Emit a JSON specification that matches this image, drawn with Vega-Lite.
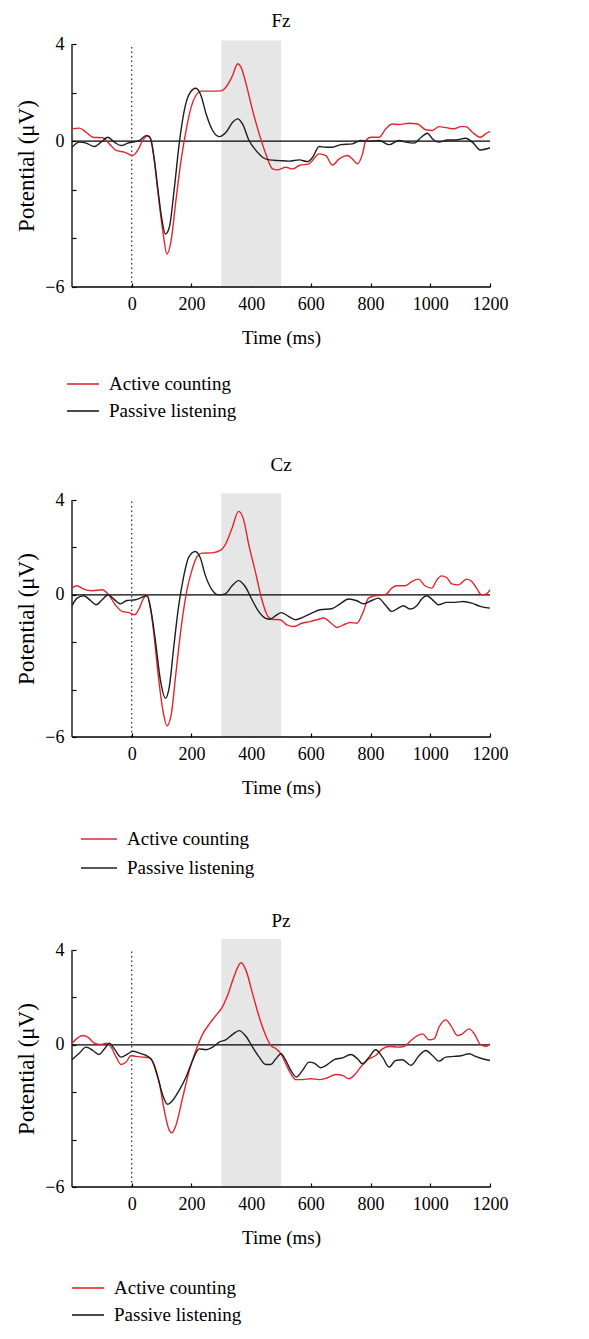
{
  "$schema": "https://vega.github.io/schema/vega-lite/v6.json",
  "background": "white",
  "padding": {"left": 15, "top": 12, "right": 5, "bottom": 5},
  "config": {
    "view": {"stroke": null},
    "font": "Liberation Serif",
    "title": {"font": "Liberation Serif", "fontSize": 19, "fontWeight": "normal", "color": "#000", "offset": 8},
    "axis": {"labelFont": "Liberation Serif", "titleFont": "Liberation Serif", "labelFontSize": 18, "titleFontSize": 19, "titleFontWeight": "normal", "labelColor": "#000", "titleColor": "#000", "domain": false, "tickColor": "#000", "grid": false, "tickWidth": 1.2, "tickSize": 4, "offset": -4, "labelPadding": 8, "zindex": 1},
    "legend": {"labelFont": "Liberation Serif", "labelFontSize": 19, "labelColor": "#000", "symbolType": "stroke", "symbolStrokeWidth": 1.6, "padding": 0, "rowPadding": 0, "labelOffset": 9}
  },
  "datasets": {
    "one": [{}],
    "erp": [
      {"site":"Fz","cond":"Active counting","t":-200,"v":0.51},{"site":"Fz","cond":"Active counting","t":-175,"v":0.54},{"site":"Fz","cond":"Active counting","t":-153,"v":0.37},{"site":"Fz","cond":"Active counting","t":-130,"v":0.16},{"site":"Fz","cond":"Active counting","t":-97,"v":0.14},{"site":"Fz","cond":"Active counting","t":-75,"v":-0.11},{"site":"Fz","cond":"Active counting","t":-52,"v":-0.38},{"site":"Fz","cond":"Active counting","t":-25,"v":-0.45},{"site":"Fz","cond":"Active counting","t":3,"v":-0.59},{"site":"Fz","cond":"Active counting","t":20,"v":-0.38},{"site":"Fz","cond":"Active counting","t":37,"v":0.03},{"site":"Fz","cond":"Active counting","t":54,"v":0.23},{"site":"Fz","cond":"Active counting","t":65,"v":0.03},{"site":"Fz","cond":"Active counting","t":76,"v":-0.8},{"site":"Fz","cond":"Active counting","t":87,"v":-2.03},{"site":"Fz","cond":"Active counting","t":104,"v":-3.68},{"site":"Fz","cond":"Active counting","t":118,"v":-4.64},{"site":"Fz","cond":"Active counting","t":132,"v":-4.09},{"site":"Fz","cond":"Active counting","t":148,"v":-2.45},{"site":"Fz","cond":"Active counting","t":165,"v":-0.8},{"site":"Fz","cond":"Active counting","t":182,"v":0.44},{"site":"Fz","cond":"Active counting","t":199,"v":1.4},{"site":"Fz","cond":"Active counting","t":215,"v":1.88},{"site":"Fz","cond":"Active counting","t":232,"v":2.06},{"site":"Fz","cond":"Active counting","t":260,"v":2.06},{"site":"Fz","cond":"Active counting","t":299,"v":2.07},{"site":"Fz","cond":"Active counting","t":316,"v":2.23},{"site":"Fz","cond":"Active counting","t":338,"v":2.71},{"site":"Fz","cond":"Active counting","t":355,"v":3.19},{"site":"Fz","cond":"Active counting","t":366,"v":3.05},{"site":"Fz","cond":"Active counting","t":383,"v":2.36},{"site":"Fz","cond":"Active counting","t":405,"v":1.26},{"site":"Fz","cond":"Active counting","t":427,"v":0.3},{"site":"Fz","cond":"Active counting","t":449,"v":-0.52},{"site":"Fz","cond":"Active counting","t":472,"v":-1.14},{"site":"Fz","cond":"Active counting","t":488,"v":-1.18},{"site":"Fz","cond":"Active counting","t":516,"v":-1.07},{"site":"Fz","cond":"Active counting","t":539,"v":-1.14},{"site":"Fz","cond":"Active counting","t":561,"v":-1.0},{"site":"Fz","cond":"Active counting","t":594,"v":-0.93},{"site":"Fz","cond":"Active counting","t":628,"v":-0.52},{"site":"Fz","cond":"Active counting","t":650,"v":-0.59},{"site":"Fz","cond":"Active counting","t":672,"v":-0.98},{"site":"Fz","cond":"Active counting","t":695,"v":-0.73},{"site":"Fz","cond":"Active counting","t":723,"v":-0.59},{"site":"Fz","cond":"Active counting","t":739,"v":-0.73},{"site":"Fz","cond":"Active counting","t":756,"v":-0.93},{"site":"Fz","cond":"Active counting","t":773,"v":-0.52},{"site":"Fz","cond":"Active counting","t":784,"v":0.03},{"site":"Fz","cond":"Active counting","t":801,"v":0.16},{"site":"Fz","cond":"Active counting","t":829,"v":0.16},{"site":"Fz","cond":"Active counting","t":851,"v":0.51},{"site":"Fz","cond":"Active counting","t":873,"v":0.71},{"site":"Fz","cond":"Active counting","t":895,"v":0.69},{"site":"Fz","cond":"Active counting","t":929,"v":0.74},{"site":"Fz","cond":"Active counting","t":957,"v":0.71},{"site":"Fz","cond":"Active counting","t":985,"v":0.47},{"site":"Fz","cond":"Active counting","t":1007,"v":0.44},{"site":"Fz","cond":"Active counting","t":1029,"v":0.6},{"site":"Fz","cond":"Active counting","t":1057,"v":0.55},{"site":"Fz","cond":"Active counting","t":1080,"v":0.51},{"site":"Fz","cond":"Active counting","t":1102,"v":0.6},{"site":"Fz","cond":"Active counting","t":1119,"v":0.6},{"site":"Fz","cond":"Active counting","t":1141,"v":0.37},{"site":"Fz","cond":"Active counting","t":1168,"v":0.16},{"site":"Fz","cond":"Active counting","t":1185,"v":0.3},{"site":"Fz","cond":"Active counting","t":1200,"v":0.4},
      {"site":"Fz","cond":"Passive listening","t":-200,"v":-0.25},{"site":"Fz","cond":"Passive listening","t":-175,"v":-0.04},{"site":"Fz","cond":"Passive listening","t":-153,"v":-0.08},{"site":"Fz","cond":"Passive listening","t":-125,"v":-0.22},{"site":"Fz","cond":"Passive listening","t":-103,"v":-0.04},{"site":"Fz","cond":"Passive listening","t":-80,"v":0.16},{"site":"Fz","cond":"Passive listening","t":-58,"v":-0.04},{"site":"Fz","cond":"Passive listening","t":-36,"v":-0.18},{"site":"Fz","cond":"Passive listening","t":-13,"v":-0.08},{"site":"Fz","cond":"Passive listening","t":3,"v":-0.04},{"site":"Fz","cond":"Passive listening","t":26,"v":0.03},{"site":"Fz","cond":"Passive listening","t":48,"v":0.23},{"site":"Fz","cond":"Passive listening","t":61,"v":0.16},{"site":"Fz","cond":"Passive listening","t":76,"v":-0.8},{"site":"Fz","cond":"Passive listening","t":87,"v":-1.9},{"site":"Fz","cond":"Passive listening","t":100,"v":-3.13},{"site":"Fz","cond":"Passive listening","t":113,"v":-3.82},{"site":"Fz","cond":"Passive listening","t":126,"v":-3.54},{"site":"Fz","cond":"Passive listening","t":143,"v":-1.9},{"site":"Fz","cond":"Passive listening","t":159,"v":-0.11},{"site":"Fz","cond":"Passive listening","t":176,"v":1.26},{"site":"Fz","cond":"Passive listening","t":193,"v":1.95},{"site":"Fz","cond":"Passive listening","t":215,"v":2.18},{"site":"Fz","cond":"Passive listening","t":232,"v":1.88},{"site":"Fz","cond":"Passive listening","t":249,"v":1.13},{"site":"Fz","cond":"Passive listening","t":271,"v":0.44},{"site":"Fz","cond":"Passive listening","t":293,"v":0.19},{"site":"Fz","cond":"Passive listening","t":316,"v":0.37},{"site":"Fz","cond":"Passive listening","t":338,"v":0.78},{"site":"Fz","cond":"Passive listening","t":355,"v":0.92},{"site":"Fz","cond":"Passive listening","t":371,"v":0.71},{"site":"Fz","cond":"Passive listening","t":393,"v":0.03},{"site":"Fz","cond":"Passive listening","t":416,"v":-0.38},{"site":"Fz","cond":"Passive listening","t":438,"v":-0.66},{"site":"Fz","cond":"Passive listening","t":461,"v":-0.77},{"site":"Fz","cond":"Passive listening","t":494,"v":-0.8},{"site":"Fz","cond":"Passive listening","t":527,"v":-0.82},{"site":"Fz","cond":"Passive listening","t":561,"v":-0.77},{"site":"Fz","cond":"Passive listening","t":589,"v":-0.84},{"site":"Fz","cond":"Passive listening","t":606,"v":-0.66},{"site":"Fz","cond":"Passive listening","t":628,"v":-0.22},{"site":"Fz","cond":"Passive listening","t":650,"v":-0.25},{"site":"Fz","cond":"Passive listening","t":672,"v":-0.25},{"site":"Fz","cond":"Passive listening","t":700,"v":-0.14},{"site":"Fz","cond":"Passive listening","t":739,"v":-0.11},{"site":"Fz","cond":"Passive listening","t":767,"v":0.03},{"site":"Fz","cond":"Passive listening","t":795,"v":0.0},{"site":"Fz","cond":"Passive listening","t":829,"v":0.03},{"site":"Fz","cond":"Passive listening","t":862,"v":-0.14},{"site":"Fz","cond":"Passive listening","t":895,"v":0.03},{"site":"Fz","cond":"Passive listening","t":918,"v":-0.04},{"site":"Fz","cond":"Passive listening","t":946,"v":-0.08},{"site":"Fz","cond":"Passive listening","t":968,"v":0.14},{"site":"Fz","cond":"Passive listening","t":990,"v":0.33},{"site":"Fz","cond":"Passive listening","t":1007,"v":0.1},{"site":"Fz","cond":"Passive listening","t":1029,"v":-0.04},{"site":"Fz","cond":"Passive listening","t":1057,"v":0.05},{"site":"Fz","cond":"Passive listening","t":1085,"v":0.05},{"site":"Fz","cond":"Passive listening","t":1119,"v":0.12},{"site":"Fz","cond":"Passive listening","t":1141,"v":-0.04},{"site":"Fz","cond":"Passive listening","t":1168,"v":-0.36},{"site":"Fz","cond":"Passive listening","t":1200,"v":-0.27},
      {"site":"Cz","cond":"Active counting","t":-200,"v":0.28},{"site":"Cz","cond":"Active counting","t":-183,"v":0.38},{"site":"Cz","cond":"Active counting","t":-161,"v":0.24},{"site":"Cz","cond":"Active counting","t":-133,"v":0.17},{"site":"Cz","cond":"Active counting","t":-99,"v":0.21},{"site":"Cz","cond":"Active counting","t":-77,"v":0.0},{"site":"Cz","cond":"Active counting","t":-55,"v":-0.42},{"site":"Cz","cond":"Active counting","t":-32,"v":-0.7},{"site":"Cz","cond":"Active counting","t":-10,"v":-0.75},{"site":"Cz","cond":"Active counting","t":10,"v":-0.84},{"site":"Cz","cond":"Active counting","t":23,"v":-0.63},{"site":"Cz","cond":"Active counting","t":40,"v":-0.14},{"site":"Cz","cond":"Active counting","t":51,"v":0.0},{"site":"Cz","cond":"Active counting","t":62,"v":-0.49},{"site":"Cz","cond":"Active counting","t":74,"v":-1.62},{"site":"Cz","cond":"Active counting","t":88,"v":-3.31},{"site":"Cz","cond":"Active counting","t":104,"v":-4.85},{"site":"Cz","cond":"Active counting","t":118,"v":-5.53},{"site":"Cz","cond":"Active counting","t":133,"v":-5.0},{"site":"Cz","cond":"Active counting","t":148,"v":-3.31},{"site":"Cz","cond":"Active counting","t":166,"v":-1.34},{"site":"Cz","cond":"Active counting","t":185,"v":0.21},{"site":"Cz","cond":"Active counting","t":202,"v":1.05},{"site":"Cz","cond":"Active counting","t":219,"v":1.62},{"site":"Cz","cond":"Active counting","t":235,"v":1.76},{"site":"Cz","cond":"Active counting","t":269,"v":1.77},{"site":"Cz","cond":"Active counting","t":297,"v":1.87},{"site":"Cz","cond":"Active counting","t":313,"v":2.11},{"site":"Cz","cond":"Active counting","t":336,"v":2.81},{"site":"Cz","cond":"Active counting","t":358,"v":3.52},{"site":"Cz","cond":"Active counting","t":375,"v":3.16},{"site":"Cz","cond":"Active counting","t":391,"v":2.18},{"site":"Cz","cond":"Active counting","t":414,"v":0.98},{"site":"Cz","cond":"Active counting","t":436,"v":-0.21},{"site":"Cz","cond":"Active counting","t":453,"v":-0.84},{"site":"Cz","cond":"Active counting","t":469,"v":-1.03},{"site":"Cz","cond":"Active counting","t":497,"v":-1.05},{"site":"Cz","cond":"Active counting","t":520,"v":-1.27},{"site":"Cz","cond":"Active counting","t":542,"v":-1.34},{"site":"Cz","cond":"Active counting","t":570,"v":-1.2},{"site":"Cz","cond":"Active counting","t":598,"v":-1.13},{"site":"Cz","cond":"Active counting","t":626,"v":-1.03},{"site":"Cz","cond":"Active counting","t":642,"v":-0.98},{"site":"Cz","cond":"Active counting","t":670,"v":-1.22},{"site":"Cz","cond":"Active counting","t":687,"v":-1.38},{"site":"Cz","cond":"Active counting","t":709,"v":-1.27},{"site":"Cz","cond":"Active counting","t":732,"v":-1.17},{"site":"Cz","cond":"Active counting","t":754,"v":-1.2},{"site":"Cz","cond":"Active counting","t":776,"v":-0.7},{"site":"Cz","cond":"Active counting","t":793,"v":-0.14},{"site":"Cz","cond":"Active counting","t":815,"v":-0.04},{"site":"Cz","cond":"Active counting","t":849,"v":0.0},{"site":"Cz","cond":"Active counting","t":871,"v":0.28},{"site":"Cz","cond":"Active counting","t":888,"v":0.38},{"site":"Cz","cond":"Active counting","t":916,"v":0.38},{"site":"Cz","cond":"Active counting","t":938,"v":0.56},{"site":"Cz","cond":"Active counting","t":960,"v":0.66},{"site":"Cz","cond":"Active counting","t":982,"v":0.38},{"site":"Cz","cond":"Active counting","t":1005,"v":0.28},{"site":"Cz","cond":"Active counting","t":1022,"v":0.63},{"site":"Cz","cond":"Active counting","t":1038,"v":0.8},{"site":"Cz","cond":"Active counting","t":1055,"v":0.73},{"site":"Cz","cond":"Active counting","t":1072,"v":0.46},{"site":"Cz","cond":"Active counting","t":1094,"v":0.42},{"site":"Cz","cond":"Active counting","t":1122,"v":0.66},{"site":"Cz","cond":"Active counting","t":1139,"v":0.56},{"site":"Cz","cond":"Active counting","t":1155,"v":0.28},{"site":"Cz","cond":"Active counting","t":1172,"v":0.0},{"site":"Cz","cond":"Active counting","t":1188,"v":0.04},{"site":"Cz","cond":"Active counting","t":1200,"v":0.21},
      {"site":"Cz","cond":"Passive listening","t":-200,"v":-0.46},{"site":"Cz","cond":"Passive listening","t":-183,"v":-0.14},{"site":"Cz","cond":"Passive listening","t":-161,"v":-0.04},{"site":"Cz","cond":"Passive listening","t":-138,"v":-0.24},{"site":"Cz","cond":"Passive listening","t":-119,"v":-0.42},{"site":"Cz","cond":"Passive listening","t":-99,"v":-0.21},{"site":"Cz","cond":"Passive listening","t":-79,"v":0.0},{"site":"Cz","cond":"Passive listening","t":-60,"v":-0.18},{"site":"Cz","cond":"Passive listening","t":-38,"v":-0.38},{"site":"Cz","cond":"Passive listening","t":-16,"v":-0.24},{"site":"Cz","cond":"Passive listening","t":12,"v":-0.21},{"site":"Cz","cond":"Passive listening","t":35,"v":-0.1},{"site":"Cz","cond":"Passive listening","t":51,"v":-0.04},{"site":"Cz","cond":"Passive listening","t":66,"v":-0.77},{"site":"Cz","cond":"Passive listening","t":79,"v":-1.9},{"site":"Cz","cond":"Passive listening","t":96,"v":-3.59},{"site":"Cz","cond":"Passive listening","t":113,"v":-4.36},{"site":"Cz","cond":"Passive listening","t":126,"v":-3.87},{"site":"Cz","cond":"Passive listening","t":141,"v":-2.18},{"site":"Cz","cond":"Passive listening","t":157,"v":-0.49},{"site":"Cz","cond":"Passive listening","t":174,"v":0.77},{"site":"Cz","cond":"Passive listening","t":191,"v":1.59},{"site":"Cz","cond":"Passive listening","t":213,"v":1.83},{"site":"Cz","cond":"Passive listening","t":230,"v":1.55},{"site":"Cz","cond":"Passive listening","t":246,"v":0.84},{"site":"Cz","cond":"Passive listening","t":269,"v":0.21},{"site":"Cz","cond":"Passive listening","t":291,"v":0.0},{"site":"Cz","cond":"Passive listening","t":313,"v":0.04},{"site":"Cz","cond":"Passive listening","t":336,"v":0.38},{"site":"Cz","cond":"Passive listening","t":358,"v":0.6},{"site":"Cz","cond":"Passive listening","t":380,"v":0.35},{"site":"Cz","cond":"Passive listening","t":403,"v":-0.21},{"site":"Cz","cond":"Passive listening","t":425,"v":-0.7},{"site":"Cz","cond":"Passive listening","t":447,"v":-0.98},{"site":"Cz","cond":"Passive listening","t":464,"v":-1.03},{"site":"Cz","cond":"Passive listening","t":481,"v":-0.89},{"site":"Cz","cond":"Passive listening","t":501,"v":-0.75},{"site":"Cz","cond":"Passive listening","t":525,"v":-0.91},{"site":"Cz","cond":"Passive listening","t":548,"v":-1.05},{"site":"Cz","cond":"Passive listening","t":575,"v":-0.94},{"site":"Cz","cond":"Passive listening","t":603,"v":-0.77},{"site":"Cz","cond":"Passive listening","t":631,"v":-0.63},{"site":"Cz","cond":"Passive listening","t":670,"v":-0.59},{"site":"Cz","cond":"Passive listening","t":698,"v":-0.38},{"site":"Cz","cond":"Passive listening","t":726,"v":-0.18},{"site":"Cz","cond":"Passive listening","t":754,"v":-0.25},{"site":"Cz","cond":"Passive listening","t":776,"v":-0.38},{"site":"Cz","cond":"Passive listening","t":804,"v":-0.24},{"site":"Cz","cond":"Passive listening","t":826,"v":-0.14},{"site":"Cz","cond":"Passive listening","t":849,"v":-0.42},{"site":"Cz","cond":"Passive listening","t":871,"v":-0.7},{"site":"Cz","cond":"Passive listening","t":893,"v":-0.56},{"site":"Cz","cond":"Passive listening","t":910,"v":-0.46},{"site":"Cz","cond":"Passive listening","t":932,"v":-0.6},{"site":"Cz","cond":"Passive listening","t":955,"v":-0.46},{"site":"Cz","cond":"Passive listening","t":971,"v":-0.18},{"site":"Cz","cond":"Passive listening","t":988,"v":-0.04},{"site":"Cz","cond":"Passive listening","t":1005,"v":-0.18},{"site":"Cz","cond":"Passive listening","t":1027,"v":-0.42},{"site":"Cz","cond":"Passive listening","t":1055,"v":-0.32},{"site":"Cz","cond":"Passive listening","t":1083,"v":-0.32},{"site":"Cz","cond":"Passive listening","t":1111,"v":-0.28},{"site":"Cz","cond":"Passive listening","t":1139,"v":-0.35},{"site":"Cz","cond":"Passive listening","t":1167,"v":-0.49},{"site":"Cz","cond":"Passive listening","t":1200,"v":-0.56},
      {"site":"Pz","cond":"Active counting","t":-200,"v":0.07},{"site":"Pz","cond":"Active counting","t":-181,"v":0.29},{"site":"Pz","cond":"Active counting","t":-164,"v":0.39},{"site":"Pz","cond":"Active counting","t":-147,"v":0.32},{"site":"Pz","cond":"Active counting","t":-125,"v":0.07},{"site":"Pz","cond":"Active counting","t":-103,"v":0.01},{"site":"Pz","cond":"Active counting","t":-86,"v":0.07},{"site":"Pz","cond":"Active counting","t":-69,"v":-0.1},{"site":"Pz","cond":"Active counting","t":-52,"v":-0.52},{"site":"Pz","cond":"Active counting","t":-36,"v":-0.83},{"site":"Pz","cond":"Active counting","t":-19,"v":-0.73},{"site":"Pz","cond":"Active counting","t":-2,"v":-0.45},{"site":"Pz","cond":"Active counting","t":14,"v":-0.49},{"site":"Pz","cond":"Active counting","t":37,"v":-0.52},{"site":"Pz","cond":"Active counting","t":59,"v":-0.55},{"site":"Pz","cond":"Active counting","t":76,"v":-0.87},{"site":"Pz","cond":"Active counting","t":93,"v":-1.64},{"site":"Pz","cond":"Active counting","t":109,"v":-2.77},{"site":"Pz","cond":"Active counting","t":126,"v":-3.61},{"site":"Pz","cond":"Active counting","t":135,"v":-3.71},{"site":"Pz","cond":"Active counting","t":148,"v":-3.4},{"site":"Pz","cond":"Active counting","t":171,"v":-2.21},{"site":"Pz","cond":"Active counting","t":193,"v":-1.08},{"site":"Pz","cond":"Active counting","t":215,"v":-0.24},{"site":"Pz","cond":"Active counting","t":238,"v":0.46},{"site":"Pz","cond":"Active counting","t":260,"v":0.88},{"site":"Pz","cond":"Active counting","t":282,"v":1.24},{"site":"Pz","cond":"Active counting","t":302,"v":1.56},{"site":"Pz","cond":"Active counting","t":321,"v":2.08},{"site":"Pz","cond":"Active counting","t":338,"v":2.71},{"site":"Pz","cond":"Active counting","t":355,"v":3.27},{"site":"Pz","cond":"Active counting","t":366,"v":3.46},{"site":"Pz","cond":"Active counting","t":383,"v":3.13},{"site":"Pz","cond":"Active counting","t":405,"v":2.15},{"site":"Pz","cond":"Active counting","t":427,"v":1.17},{"site":"Pz","cond":"Active counting","t":449,"v":0.39},{"site":"Pz","cond":"Active counting","t":466,"v":-0.03},{"site":"Pz","cond":"Active counting","t":483,"v":-0.17},{"site":"Pz","cond":"Active counting","t":500,"v":-0.38},{"site":"Pz","cond":"Active counting","t":516,"v":-0.8},{"site":"Pz","cond":"Active counting","t":533,"v":-1.22},{"site":"Pz","cond":"Active counting","t":550,"v":-1.47},{"site":"Pz","cond":"Active counting","t":572,"v":-1.47},{"site":"Pz","cond":"Active counting","t":600,"v":-1.43},{"site":"Pz","cond":"Active counting","t":628,"v":-1.47},{"site":"Pz","cond":"Active counting","t":656,"v":-1.39},{"site":"Pz","cond":"Active counting","t":684,"v":-1.25},{"site":"Pz","cond":"Active counting","t":706,"v":-1.29},{"site":"Pz","cond":"Active counting","t":728,"v":-1.43},{"site":"Pz","cond":"Active counting","t":745,"v":-1.29},{"site":"Pz","cond":"Active counting","t":767,"v":-0.94},{"site":"Pz","cond":"Active counting","t":790,"v":-0.63},{"site":"Pz","cond":"Active counting","t":817,"v":-0.45},{"site":"Pz","cond":"Active counting","t":840,"v":-0.17},{"site":"Pz","cond":"Active counting","t":862,"v":-0.07},{"site":"Pz","cond":"Active counting","t":890,"v":-0.1},{"site":"Pz","cond":"Active counting","t":912,"v":-0.07},{"site":"Pz","cond":"Active counting","t":935,"v":0.18},{"site":"Pz","cond":"Active counting","t":957,"v":0.39},{"site":"Pz","cond":"Active counting","t":974,"v":0.46},{"site":"Pz","cond":"Active counting","t":996,"v":0.21},{"site":"Pz","cond":"Active counting","t":1013,"v":0.25},{"site":"Pz","cond":"Active counting","t":1029,"v":0.74},{"site":"Pz","cond":"Active counting","t":1052,"v":1.05},{"site":"Pz","cond":"Active counting","t":1069,"v":0.81},{"site":"Pz","cond":"Active counting","t":1091,"v":0.39},{"site":"Pz","cond":"Active counting","t":1107,"v":0.46},{"site":"Pz","cond":"Active counting","t":1130,"v":0.67},{"site":"Pz","cond":"Active counting","t":1146,"v":0.49},{"site":"Pz","cond":"Active counting","t":1168,"v":0.01},{"site":"Pz","cond":"Active counting","t":1185,"v":-0.07},{"site":"Pz","cond":"Active counting","t":1200,"v":0.04},
      {"site":"Pz","cond":"Passive listening","t":-200,"v":-0.63},{"site":"Pz","cond":"Passive listening","t":-175,"v":-0.35},{"site":"Pz","cond":"Passive listening","t":-153,"v":-0.1},{"site":"Pz","cond":"Passive listening","t":-130,"v":-0.24},{"site":"Pz","cond":"Passive listening","t":-110,"v":-0.41},{"site":"Pz","cond":"Passive listening","t":-91,"v":-0.17},{"site":"Pz","cond":"Passive listening","t":-75,"v":0.07},{"site":"Pz","cond":"Passive listening","t":-58,"v":-0.17},{"site":"Pz","cond":"Passive listening","t":-36,"v":-0.52},{"site":"Pz","cond":"Passive listening","t":-13,"v":-0.38},{"site":"Pz","cond":"Passive listening","t":3,"v":-0.27},{"site":"Pz","cond":"Passive listening","t":26,"v":-0.35},{"site":"Pz","cond":"Passive listening","t":48,"v":-0.45},{"site":"Pz","cond":"Passive listening","t":68,"v":-0.66},{"site":"Pz","cond":"Passive listening","t":87,"v":-1.36},{"site":"Pz","cond":"Passive listening","t":104,"v":-2.13},{"site":"Pz","cond":"Passive listening","t":120,"v":-2.51},{"site":"Pz","cond":"Passive listening","t":137,"v":-2.35},{"site":"Pz","cond":"Passive listening","t":159,"v":-1.92},{"site":"Pz","cond":"Passive listening","t":182,"v":-1.36},{"site":"Pz","cond":"Passive listening","t":204,"v":-0.66},{"site":"Pz","cond":"Passive listening","t":226,"v":-0.17},{"site":"Pz","cond":"Passive listening","t":249,"v":-0.21},{"site":"Pz","cond":"Passive listening","t":271,"v":-0.1},{"site":"Pz","cond":"Passive listening","t":293,"v":0.11},{"site":"Pz","cond":"Passive listening","t":316,"v":0.22},{"site":"Pz","cond":"Passive listening","t":338,"v":0.44},{"site":"Pz","cond":"Passive listening","t":360,"v":0.6},{"site":"Pz","cond":"Passive listening","t":383,"v":0.35},{"site":"Pz","cond":"Passive listening","t":405,"v":-0.1},{"site":"Pz","cond":"Passive listening","t":427,"v":-0.52},{"site":"Pz","cond":"Passive listening","t":449,"v":-0.83},{"site":"Pz","cond":"Passive listening","t":466,"v":-0.83},{"site":"Pz","cond":"Passive listening","t":483,"v":-0.59},{"site":"Pz","cond":"Passive listening","t":500,"v":-0.38},{"site":"Pz","cond":"Passive listening","t":516,"v":-0.66},{"site":"Pz","cond":"Passive listening","t":533,"v":-1.08},{"site":"Pz","cond":"Passive listening","t":552,"v":-1.36},{"site":"Pz","cond":"Passive listening","t":572,"v":-1.08},{"site":"Pz","cond":"Passive listening","t":594,"v":-0.73},{"site":"Pz","cond":"Passive listening","t":611,"v":-0.77},{"site":"Pz","cond":"Passive listening","t":633,"v":-0.97},{"site":"Pz","cond":"Passive listening","t":656,"v":-0.83},{"site":"Pz","cond":"Passive listening","t":678,"v":-0.63},{"site":"Pz","cond":"Passive listening","t":706,"v":-0.55},{"site":"Pz","cond":"Passive listening","t":734,"v":-0.41},{"site":"Pz","cond":"Passive listening","t":756,"v":-0.59},{"site":"Pz","cond":"Passive listening","t":773,"v":-0.8},{"site":"Pz","cond":"Passive listening","t":795,"v":-0.52},{"site":"Pz","cond":"Passive listening","t":817,"v":-0.21},{"site":"Pz","cond":"Passive listening","t":840,"v":-0.52},{"site":"Pz","cond":"Passive listening","t":862,"v":-0.94},{"site":"Pz","cond":"Passive listening","t":884,"v":-0.66},{"site":"Pz","cond":"Passive listening","t":907,"v":-0.63},{"site":"Pz","cond":"Passive listening","t":935,"v":-0.87},{"site":"Pz","cond":"Passive listening","t":963,"v":-0.45},{"site":"Pz","cond":"Passive listening","t":985,"v":-0.24},{"site":"Pz","cond":"Passive listening","t":1007,"v":-0.45},{"site":"Pz","cond":"Passive listening","t":1029,"v":-0.69},{"site":"Pz","cond":"Passive listening","t":1052,"v":-0.52},{"site":"Pz","cond":"Passive listening","t":1080,"v":-0.49},{"site":"Pz","cond":"Passive listening","t":1107,"v":-0.45},{"site":"Pz","cond":"Passive listening","t":1130,"v":-0.38},{"site":"Pz","cond":"Passive listening","t":1152,"v":-0.49},{"site":"Pz","cond":"Passive listening","t":1174,"v":-0.59},{"site":"Pz","cond":"Passive listening","t":1200,"v":-0.66}
    ]
  },
  "vconcat": [
    {
      "width": 418, "height": 243,
      "title": {"text": "Fz", "offset": 4},
      "layer": [
        {"data": {"name": "one"},
         "mark": {"type": "rect", "color": "#e6e6e6", "clip": false},
         "encoding": {
           "x": {"datum": 300, "type": "quantitative", "scale": {"domain": [-200, 1200], "nice": false, "zero": false},
                 "axis": {"values": [0,200,400,600,800,1000,1200], "format": "d", "labelFlush": false, "labelOverlap": false, "title": "Time (ms)", "titlePadding": 15}},
           "x2": {"datum": 500},
           "y": {"datum": -6, "type": "quantitative", "scale": {"domain": [-6, 4], "nice": false, "zero": false},
                 "axis": {"values": [-6,-5,-4,-3,-2,-1,0,1,2,3,4], "labelExpr": "datum.value === -6 ? '−6' : (datum.value === 0 ? '0' : (datum.value === 4 ? '4' : ''))", "title": "Potential (μV)", "titleFontSize": 23, "titlePadding": 6}},
           "y2": {"datum": 4.14}
         }},
        {"data": {"name": "one"},
         "mark": {"type": "rule", "strokeDash": [1.5, 3], "color": "#222", "strokeWidth": 1.2},
         "encoding": {"x": {"datum": 0, "type": "quantitative"}, "y": {"datum": -6, "type": "quantitative"}, "y2": {"datum": 4}}},
        {"data": {"name": "one"},
         "mark": {"type": "rule", "color": "#000", "strokeWidth": 1.3},
         "encoding": {"y": {"datum": 0, "type": "quantitative"}, "x": {"datum": -200, "type": "quantitative"}, "x2": {"datum": 1200}}},
        {"data": {"name": "one"},
         "mark": {"type": "rule", "color": "#000", "strokeWidth": 1.3},
         "encoding": {"y": {"datum": -6, "type": "quantitative"}, "x": {"datum": -200, "type": "quantitative"}, "x2": {"datum": 1200}}},
        {"data": {"name": "one"},
         "mark": {"type": "rule", "color": "#000", "strokeWidth": 1.3},
         "encoding": {"x": {"datum": -200, "type": "quantitative"}, "y": {"datum": -6, "type": "quantitative"}, "y2": {"datum": 4}}},
        {"data": {"name": "erp"},
         "transform": [{"filter": "datum.site === 'Fz'"}],
         "mark": {"type": "line", "interpolate": "monotone", "strokeWidth": 1.4},
         "encoding": {
           "x": {"field": "t", "type": "quantitative"},
           "y": {"field": "v", "type": "quantitative"},
           "color": {"field": "cond", "type": "nominal", "scale": {"domain": ["Active counting", "Passive listening"], "range": ["#e3262b", "#1e1e1e"]},
                     "legend": {"title": null, "orient": "none", "legendX": -6, "legendY": 323, "symbolSize": 1024}}
         }}
      ]
    },
    {
      "width": 418, "height": 237,
      "title": {"text": "Cz", "offset": 16},
      "layer": [
        {"data": {"name": "one"},
         "mark": {"type": "rect", "color": "#e6e6e6", "clip": false},
         "encoding": {
           "x": {"datum": 300, "type": "quantitative", "scale": {"domain": [-200, 1200], "nice": false, "zero": false},
                 "axis": {"values": [0,200,400,600,800,1000,1200], "format": "d", "labelFlush": false, "labelOverlap": false, "title": "Time (ms)", "titlePadding": 15}},
           "x2": {"datum": 500},
           "y": {"datum": -6, "type": "quantitative", "scale": {"domain": [-6, 4], "nice": false, "zero": false},
                 "axis": {"values": [-6,-5,-4,-3,-2,-1,0,1,2,3,4], "labelExpr": "datum.value === -6 ? '−6' : (datum.value === 0 ? '0' : (datum.value === 4 ? '4' : ''))", "title": "Potential (μV)", "titleFontSize": 23, "titlePadding": 6}},
           "y2": {"datum": 4.28}
         }},
        {"data": {"name": "one"},
         "mark": {"type": "rule", "strokeDash": [1.5, 3], "color": "#222", "strokeWidth": 1.2},
         "encoding": {"x": {"datum": 0, "type": "quantitative"}, "y": {"datum": -6, "type": "quantitative"}, "y2": {"datum": 4}}},
        {"data": {"name": "one"},
         "mark": {"type": "rule", "color": "#000", "strokeWidth": 1.3},
         "encoding": {"y": {"datum": 0, "type": "quantitative"}, "x": {"datum": -200, "type": "quantitative"}, "x2": {"datum": 1200}}},
        {"data": {"name": "one"},
         "mark": {"type": "rule", "color": "#000", "strokeWidth": 1.3},
         "encoding": {"y": {"datum": -6, "type": "quantitative"}, "x": {"datum": -200, "type": "quantitative"}, "x2": {"datum": 1200}}},
        {"data": {"name": "one"},
         "mark": {"type": "rule", "color": "#000", "strokeWidth": 1.3},
         "encoding": {"x": {"datum": -200, "type": "quantitative"}, "y": {"datum": -6, "type": "quantitative"}, "y2": {"datum": 4}}},
        {"data": {"name": "erp"},
         "transform": [{"filter": "datum.site === 'Cz'"}],
         "mark": {"type": "line", "interpolate": "monotone", "strokeWidth": 1.4},
         "encoding": {
           "x": {"field": "t", "type": "quantitative"},
           "y": {"field": "v", "type": "quantitative"},
           "color": {"field": "cond", "type": "nominal", "scale": {"domain": ["Active counting", "Passive listening"], "range": ["#e3262b", "#1e1e1e"]},
                     "legend": {"title": null, "orient": "none", "legendX": 8, "legendY": 320, "symbolSize": 1296}}
         }}
      ]
    },
    {
      "width": 418, "height": 237,
      "title": {"text": "Pz", "offset": 8},
      "layer": [
        {"data": {"name": "one"},
         "mark": {"type": "rect", "color": "#e6e6e6", "clip": false},
         "encoding": {
           "x": {"datum": 300, "type": "quantitative", "scale": {"domain": [-200, 1200], "nice": false, "zero": false},
                 "axis": {"values": [0,200,400,600,800,1000,1200], "format": "d", "labelFlush": false, "labelOverlap": false, "title": "Time (ms)", "titlePadding": 15}},
           "x2": {"datum": 500},
           "y": {"datum": -6, "type": "quantitative", "scale": {"domain": [-6, 4], "nice": false, "zero": false},
                 "axis": {"values": [-6,-5,-4,-3,-2,-1,0,1,2,3,4], "labelExpr": "datum.value === -6 ? '−6' : (datum.value === 0 ? '0' : (datum.value === 4 ? '4' : ''))", "title": "Potential (μV)", "titleFontSize": 23, "titlePadding": 6}},
           "y2": {"datum": 4.46}
         }},
        {"data": {"name": "one"},
         "mark": {"type": "rule", "strokeDash": [1.5, 3], "color": "#222", "strokeWidth": 1.2},
         "encoding": {"x": {"datum": 0, "type": "quantitative"}, "y": {"datum": -6, "type": "quantitative"}, "y2": {"datum": 4}}},
        {"data": {"name": "one"},
         "mark": {"type": "rule", "color": "#000", "strokeWidth": 1.3},
         "encoding": {"y": {"datum": 0, "type": "quantitative"}, "x": {"datum": -200, "type": "quantitative"}, "x2": {"datum": 1200}}},
        {"data": {"name": "one"},
         "mark": {"type": "rule", "color": "#000", "strokeWidth": 1.3},
         "encoding": {"y": {"datum": -6, "type": "quantitative"}, "x": {"datum": -200, "type": "quantitative"}, "x2": {"datum": 1200}}},
        {"data": {"name": "one"},
         "mark": {"type": "rule", "color": "#000", "strokeWidth": 1.3},
         "encoding": {"x": {"datum": -200, "type": "quantitative"}, "y": {"datum": -6, "type": "quantitative"}, "y2": {"datum": 4}}},
        {"data": {"name": "erp"},
         "transform": [{"filter": "datum.site === 'Pz'"}],
         "mark": {"type": "line", "interpolate": "monotone", "strokeWidth": 1.4},
         "encoding": {
           "x": {"field": "t", "type": "quantitative"},
           "y": {"field": "v", "type": "quantitative"},
           "color": {"field": "cond", "type": "nominal", "scale": {"domain": ["Active counting", "Passive listening"], "range": ["#e3262b", "#1e1e1e"]},
                     "legend": {"title": null, "orient": "none", "legendX": -1, "legendY": 321, "symbolSize": 1024}}
         }}
      ]
    }
  ],
  "spacing": 213,
  "bounds": "flush",
  "resolve": {"legend": {"color": "independent"}}
}
